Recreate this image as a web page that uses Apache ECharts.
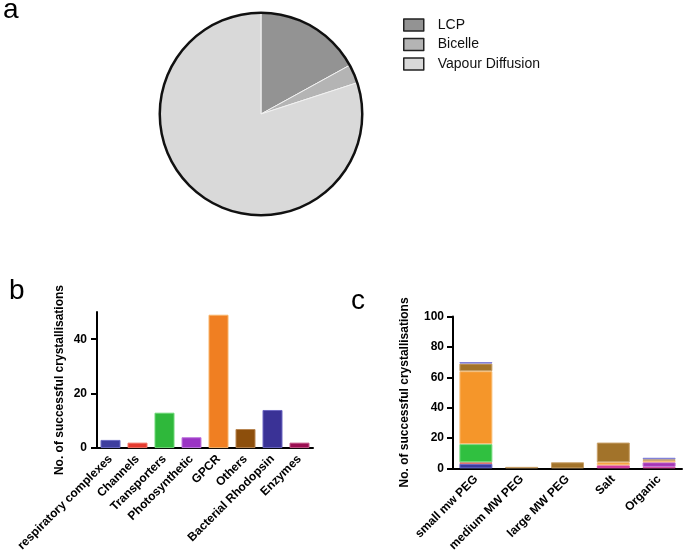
<!DOCTYPE html>
<html><head><meta charset="utf-8">
<script src="https://cdn.jsdelivr.net/npm/echarts@6/dist/echarts.min.js"></script>
<style>html,body{margin:0;padding:0;background:#fff;} #c{width:685px;height:554px;}</style>
</head><body><div id="c"></div>
<script>
// ---- Panel a: crystallisation methods (pie)
const pieNames = ['LCP', 'Bicelle', 'Vapour Diffusion'];
const pieValues = [17, 3, 80];
const pieColors = ['#939393', '#b4b4b4', '#d9d9d9'];

// ---- Panel b: protein classes
const proteinClasses = ['respiratory complexes', 'Channels', 'Transporters', 'Photosynthetic', 'GPCR', 'Others', 'Bacterial Rhodopsin', 'Enzymes'];
const classCounts = [3, 2, 13, 4, 49, 7, 14, 2];
const classColors = ['#3d3d9f', '#e53a2f', '#2fb83b', '#9a34c4', '#f07f22', '#8d4f0c', '#3a3296', '#9b0e52'];
const classBorders = ['#6a6ac4', '#f27566', '#6fd878', '#c27ae0', '#f8b468', '#b88652', '#6c66c2', '#c4588a'];
const yTicksB = [0, 20, 40];

// ---- Panel c: precipitant conditions (stacked)
const conditions = ['small mw PEG', 'medium MW PEG', 'large MW PEG', 'Salt', 'Organic'];
const stackNames = ['Respiratory complexes', 'Channels', 'Enzymes', 'Photosynthetic', 'Transporters', 'GPCR', 'Others', 'Bacterial Rhodopsin'];
const stackRespiratory   = [3, 0, 0, 0, 0];
const stackChannels      = [1, 0, 0, 0, 0];
const stackEnzymes       = [0, 0, 0, 2, 1];
const stackPhotosynthetic= [0, 0, 0, 0, 3];
const stackTransporters  = [12, 0, 0, 0, 0];
const stackGPCR          = [48, 0, 0, 2, 1];
const stackOthers        = [5, 1, 4, 13, 1];
const stackBR            = [1, 0, 0, 0, 1];
const stackValues = [stackRespiratory, stackChannels, stackEnzymes, stackPhotosynthetic, stackTransporters, stackGPCR, stackOthers, stackBR];
const stackColors  = ['#3b3ba0', '#c83030', '#d0309a', '#a535b8', '#30c040', '#f5962a', '#a2732a', '#4a4ab8'];
const stackBorders = ['#6a6ac8', '#e06a6a', '#d850a8', '#c070d0', '#78dc80', '#f9c07a', '#c8a068', '#8080d8'];
const yTicksC = [0, 20, 40, 60, 80, 100];

const FONT = '"Liberation Sans", Arial, Helvetica, sans-serif';
const chart = echarts.init(document.getElementById('c'), null, {renderer: 'canvas'});

const axisLineStyle = {color: '#000', width: 2};
const labelStyle = {fontWeight: 'bold', fontSize: 12, color: '#000', fontFamily: FONT};
const nameStyle = {fontWeight: 'bold', fontSize: 12, color: '#000', fontFamily: FONT};
const panelTitle = (t, l, tp) => ({text: t, left: l, top: tp, padding: 0,
  textStyle: {fontSize: 28, fontWeight: 'normal', color: '#000', fontFamily: FONT}});

const option = {
  animation: false,
  backgroundColor: '#fff',
  textStyle: {fontFamily: FONT},
  title: [panelTitle('a', 3, -4), panelTitle('b', 9, 277), panelTitle('c', 351, 287)],
  legend: {
    data: pieNames, left: 403, top: 18, orient: 'vertical', padding: 0,
    itemWidth: 20, itemHeight: 12, itemGap: 5.5, icon: 'rect', selectedMode: false,
    itemStyle: {borderColor: '#222', borderWidth: 1.5},
    textStyle: {fontSize: 14, color: '#111', fontFamily: FONT, padding: [0, 0, 0, 9]}
  },
  grid: [
    {left: 97, top: 312, width: 216, height: 144},
    {left: 453, top: 316.5, width: 229, height: 153.5}
  ],
  xAxis: [
    {gridIndex: 0, type: 'category', data: proteinClasses,
     axisLine: {lineStyle: axisLineStyle},
     axisTick: {alignWithLabel: true, length: 6, lineStyle: axisLineStyle},
     axisLabel: Object.assign({rotate: 45, interval: 0, margin: 9}, labelStyle)},
    {gridIndex: 1, type: 'category', data: conditions,
     axisLine: {lineStyle: axisLineStyle},
     axisTick: {alignWithLabel: true, length: 6, lineStyle: axisLineStyle},
     axisLabel: Object.assign({rotate: 45, interval: 0, margin: 9}, labelStyle)}
  ],
  yAxis: [
    {gridIndex: 0, type: 'value', min: 0, max: 50, interval: 20,
     name: 'No. of successful crystallisations', nameLocation: 'middle', nameGap: 31, nameTextStyle: nameStyle,
     axisLine: {show: true, lineStyle: axisLineStyle},
     axisTick: {show: true, length: 6, lineStyle: axisLineStyle, customValues: yTicksB},
     axisLabel: Object.assign({customValues: yTicksB, margin: 10}, labelStyle),
     splitLine: {show: false}},
    {gridIndex: 1, type: 'value', min: 0, max: 100, interval: 20,
     name: 'No. of successful crystallisations', nameLocation: 'middle', nameGap: 42, nameTextStyle: nameStyle,
     axisLine: {show: true, lineStyle: axisLineStyle},
     axisTick: {show: true, length: 6, lineStyle: axisLineStyle, customValues: yTicksC},
     axisLabel: Object.assign({customValues: yTicksC, margin: 9}, labelStyle),
     splitLine: {show: false}}
  ],
  series: [
    {type: 'pie', center: [261, 114], radius: 101, startAngle: 90, clockwise: true, silent: true,
     label: {show: false}, labelLine: {show: false},
     itemStyle: {borderColor: '#f2f2f2', borderWidth: 1},
     data: pieNames.map((n, i) => ({name: n, value: pieValues[i], itemStyle: {color: pieColors[i]}}))},
    {type: 'pie', center: [261, 114], radius: [100, 102.5], silent: true, legendHoverLink: false,
     label: {show: false}, labelLine: {show: false},
     data: [{name: 'outline', value: 1, itemStyle: {color: '#111'}}]},
    {type: 'bar', xAxisIndex: 0, yAxisIndex: 0, barWidth: 20, silent: true,
     itemStyle: {borderWidth: 1},
     data: classCounts.map((v, i) => ({value: v, itemStyle: {color: classColors[i], borderColor: classBorders[i]}}))}
  ].concat(stackNames.map((n, k) => ({
    type: 'bar', name: n, xAxisIndex: 1, yAxisIndex: 1, stack: 'cond', barWidth: 33, silent: true,
    itemStyle: {color: stackColors[k], borderColor: stackBorders[k], borderWidth: 1},
    data: stackValues[k].map(v => v === 0 ? null : v)
  })))
};
chart.setOption(option);
</script></body></html>
